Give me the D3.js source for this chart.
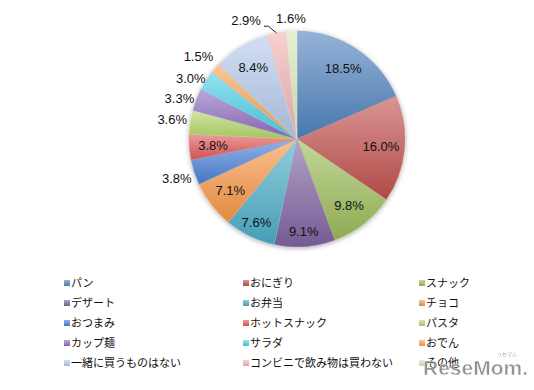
<!DOCTYPE html>
<html><head><meta charset="utf-8">
<script src="https://cdn.jsdelivr.net/npm/d3@7"></script>
<style>html,body{margin:0;padding:0;background:#fff;}svg{display:block;}</style>
</head><body>
<script>
const categories = ["パン","おにぎり","スナック","デザート","お弁当","チョコ","おつまみ","ホットスナック","パスタ","カップ麺","サラダ","おでん","一緒に買うものはない","コンビニで飲み物は買わない","その他"];
const values = [18.5,16.0,9.8,9.1,7.6,7.1,3.8,3.8,3.6,3.3,3.0,1.5,8.4,2.9,1.6];
const valueLabels = ["18.5%","16.0%","9.8%","9.1%","7.6%","7.1%","3.8%","3.8%","3.6%","3.3%","3.0%","1.5%","8.4%","2.9%","1.6%"];
const colors = ["#4F81BD","#C0504D","#9BBB59","#8064A2","#4BACC6","#F79646","#4A80D6","#E05A58","#B3D66A","#8E6CC0","#4DCDE6","#F8A252","#B4C8EA","#F0B2B2","#D6E8B4"];

const W = 534, H = 390;
const cx = 297, cy = 139, R = 108;
const svg = d3.select("body").append("svg").attr("width", W).attr("height", H);
const defs = svg.append("defs");

const f = defs.append("filter").attr("id","sh").attr("x","-20%").attr("y","-20%").attr("width","140%").attr("height","140%");
f.append("feGaussianBlur").attr("in","SourceAlpha").attr("stdDeviation",2.5).attr("result","b");
f.append("feOffset").attr("in","b").attr("dx",0).attr("dy",1).attr("result","o");
f.append("feComponentTransfer").attr("in","o").attr("result","o2").append("feFuncA").attr("type","linear").attr("slope",0.35);
const fm = f.append("feMerge"); fm.append("feMergeNode").attr("in","o2"); fm.append("feMergeNode").attr("in","SourceGraphic");

colors.forEach((c,i)=>{
  const g = defs.append("linearGradient").attr("id","g"+i).attr("x1",0).attr("y1",0).attr("x2",0).attr("y2",1);
  g.append("stop").attr("offset","0%").attr("stop-color", d3.interpolateRgb(c,"#fff")(0.4));
  g.append("stop").attr("offset","100%").attr("stop-color", d3.color(c).darker(0.25));
});

const pie = d3.pie().sort(null).value(d=>d)(values);
const arc = d3.arc().innerRadius(0).outerRadius(R);
const gp = svg.append("g").attr("transform",`translate(${cx},${cy})`);
gp.append("g").attr("filter","url(#sh)").selectAll("path").data(pie).join("path")
  .attr("d",arc).attr("fill",(d,i)=>`url(#g${i})`)
  .attr("stroke",(d,i)=>d3.interpolateRgb(colors[i],"#fff")(0.3)).attr("stroke-width",0.4);

// label placement
const outside = new Set([6,8,9,10,11,13,14]);
function labelRadius(i){
  if (i===13 || i===14) return R*1.12;
  if (outside.has(i)) return R*1.17;
  if (i===3 || i===4) return R*0.86;
  return R*0.78;
}
const shiftX = {13:-28, 11:-3};
const shiftY = {9:6, 10:8};
pie.forEach((d,i)=>{
  const a = (d.startAngle+d.endAngle)/2;
  const r = labelRadius(i);
  let x = Math.sin(a)*r + (shiftX[i]||0), y = -Math.cos(a)*r + (shiftY[i]||0);
  gp.append("text").attr("x",x).attr("y",y).attr("text-anchor","middle").attr("dy","0.35em")
    .style("font-family","'Liberation Sans', Arial, sans-serif").style("font-size","13px").attr("fill","#111")
    .text(valueLabels[i]);
  if (i===13){
    const ex = Math.sin(a)*R, ey = -Math.cos(a)*R;
    const mx = Math.sin(a)*(R+11)-6, my = -Math.cos(a)*(R+11)+4;
    gp.append("polyline").attr("points",`${ex},${ey} ${mx},${my} ${x+18},${my}`)
      .attr("fill","none").attr("stroke","#222").attr("stroke-width",1);
  }
});

// legend
const colX = [64, 243, 419];
const rowY0 = 283, rowStep = 20;
const lg = svg.append("g");
categories.forEach((c,i)=>{
  const x = colX[i%3], y = rowY0 + Math.floor(i/3)*rowStep;
  lg.append("rect").attr("x",x).attr("y",y-3).attr("width",6).attr("height",6).attr("fill",`url(#g${i})`);
  lg.append("text").attr("x",x+7).attr("y",y).attr("dy","0.38em")
    .style("font-family","'Noto Sans CJK JP', sans-serif").style("font-size","11px").attr("fill","#111").text(c);
});

// watermark
const wm = svg.append("g").attr("opacity",0.85);
wm.append("text").attr("x",423).attr("y",375).style("font-family","'Liberation Sans', Arial, sans-serif").style("font-weight","bold")
  .style("font-size","21px").attr("fill","#808080").attr("stroke","#fff").attr("stroke-width",0.5)
  .text("ReseMom.");
wm.append("text").attr("x",507).attr("y",356).attr("text-anchor","middle").style("font-family","'Noto Sans CJK JP', sans-serif")
  .style("font-size","5px").attr("fill","#909090").text("リセマム");
</script>
</body></html>
